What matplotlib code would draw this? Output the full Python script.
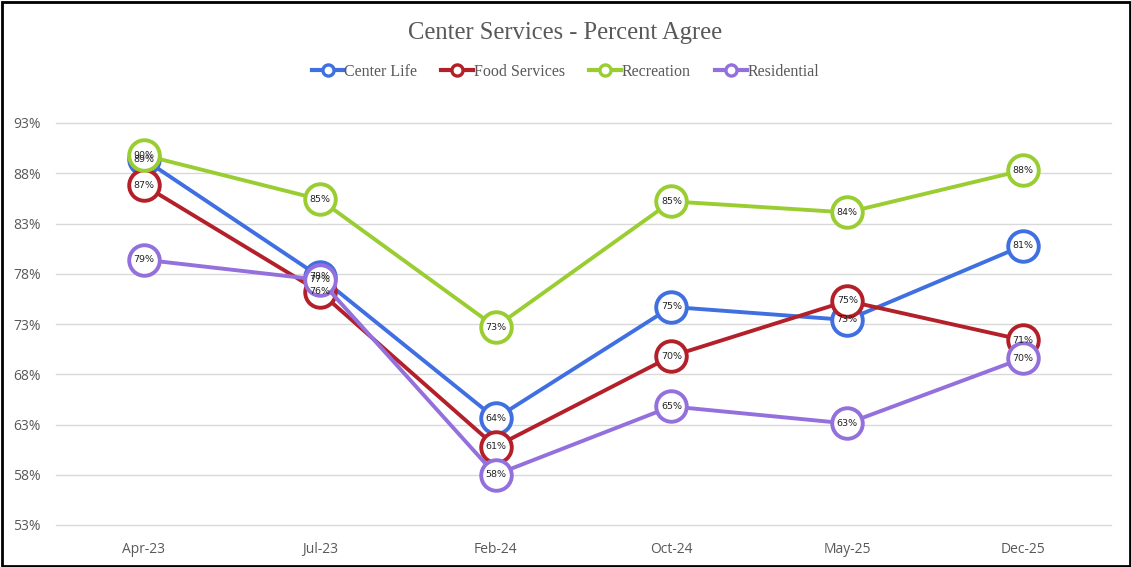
import matplotlib
matplotlib.use("Agg")
import matplotlib.pyplot as plt
from matplotlib.patches import Rectangle

categories = ["Apr-23", "Jul-23", "Feb-24", "Oct-24", "May-25", "Dec-25"]
center_life = [89.4, 77.7, 63.6, 74.7, 73.4, 80.8]
food_services = [86.8, 76.2, 60.8, 69.8, 75.3, 71.4]
recreation = [89.8, 85.4, 72.7, 85.2, 84.1, 88.3]
residential = [79.4, 77.4, 58.0, 64.8, 63.1, 69.6]
y_ticks = [53, 58, 63, 68, 73, 78, 83, 88, 93]

series = [
    ("Center Life", center_life, "#3F6FE0"),
    ("Food Services", food_services, "#B3202A"),
    ("Recreation", recreation, "#9ACD32"),
    ("Residential", residential, "#9370DB"),
]

W, H = 1131, 567
fig = plt.figure(figsize=(W / 100, H / 100), dpi=100)
ax = fig.add_axes([56 / W, 1 - 525 / H, (1111 - 56) / W, (525 - 123) / H])

x = list(range(len(categories)))
for i, (name, vals, col) in enumerate(series):
    ax.plot(x, vals, color=col, lw=2.8, marker="o", ms=22,
            mfc="white", mec=col, mew=2.8, zorder=3 + i, label=name,
            solid_capstyle="round", clip_on=False)

for i, (name, vals, col) in enumerate(series):
    for xi, v in zip(x, vals):
        ax.text(xi, v, f"{round(v):d}%", ha="center", va="center",
                fontsize=6.8, color="#222222", zorder=20, family="DejaVu Sans")

ax.set_xlim(-0.5, len(categories) - 0.5)
ax.set_ylim(53, 93)
ax.set_yticks(y_ticks)
ax.set_yticklabels([f"{t}%" for t in y_ticks])
ax.set_xticks(x)
ax.set_xticklabels(categories)
ax.tick_params(axis="both", length=0, labelsize=10, labelcolor="#595959")
ax.tick_params(axis="y", pad=11)
ax.tick_params(axis="x", pad=12)
for lab in ax.get_xticklabels() + ax.get_yticklabels():
    lab.set_family("Open Sans")
for t in y_ticks:
    ax.axhline(t, color="#D9D9D9", lw=1, zorder=0, clip_on=False)
for s in ax.spines.values():
    s.set_visible(False)

fig.text(0.5, 1 - 33 / H, "Center Services - Percent Agree", ha="center",
         va="center", fontsize=17.7, color="#595959", family="Liberation Serif")

leg = fig.legend(handles=[plt.Line2D([0], [0], color=c, lw=3, marker="o", ms=8,
                                     mfc="white", mec=c, mew=2.4) for _, _, c in series],
                 labels=[n for n, _, _ in series], loc="center",
                 bbox_to_anchor=(0.5, 1 - 72 / H), ncol=4, frameon=False,
                 prop={"family": "Liberation Serif", "size": 11.5},
                 handlelength=2.0, handletextpad=0.05, columnspacing=1.5)
for t in leg.get_texts():
    t.set_color("#595959")

fig.patches.append(Rectangle((1.5 / W, 1.5 / H), 1 - 3 / W, 1 - 3 / H,
                             transform=fig.transFigure, fill=False,
                             ec="black", lw=2))

fig.savefig("out.png", dpi=100)
